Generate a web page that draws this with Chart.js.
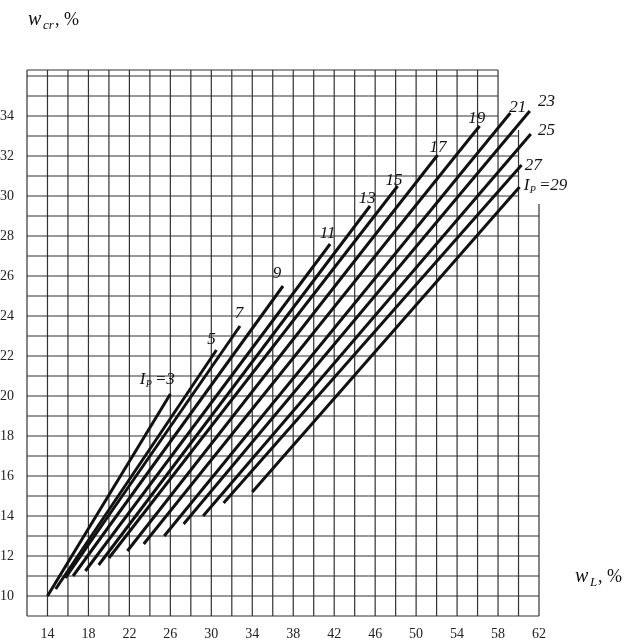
<!DOCTYPE html>
<html><head><meta charset="utf-8">
<script src="https://cdn.jsdelivr.net/npm/chart.js@4"></script>
<style>html,body{margin:0;padding:0;background:#fff}#c{display:block}</style>
</head><body>
<canvas id="c" width="635" height="642"></canvas>
<script>
const ipValues=[3,5,7,9,11,13,15,17,19,21,23,25,27,29];
const startX=[14,14.8,15.75,16.5,17.7,19,20,21.8,23.4,25.4,27.3,29.2,31.2,34];
const startY=[10,10.35,10.9,11,11.25,11.55,11.9,12.25,12.6,13,13.6,14,14.65,15.2];
const endX=[26,30.5,32.8,37,41.6,45.5,48.2,52.1,56.2,59.2,61.1,61.2,60.3,60.1];
const endY=[20.1,22.3,23.5,25.5,27.6,29.5,30.5,32.05,33.5,34.15,34.25,33.1,31.55,30.45];
const labelX=[23.0,29.6,32.3,36.0,40.6,44.4,47.0,51.3,55.1,59.1,61.9,61.9,60.6,60.5];
const labelY=[20.6,22.6,23.9,25.9,27.9,29.65,30.55,32.2,33.65,34.2,34.5,33.05,31.3,30.3];
const xTicks=[14,18,22,26,30,34,38,42,46,50,54,58,62];
const yTicks=[10,12,14,16,18,20,22,24,26,28,30,32,34];

const datasets=ipValues.map((v,i)=>({label:'Ip='+v,data:[{x:startX[i],y:startY[i]},{x:endX[i],y:endY[i]}],
 borderColor:'#111',borderWidth:3,pointRadius:0,fill:false,tension:0}));

const grid={id:'grid',beforeDatasetsDraw(ch){
 const {ctx,scales:{x,y}}=ch;ctx.save();ctx.strokeStyle='#333';ctx.lineWidth=1.2;
 const top=36.3;
 for(let v=12;v<=62;v+=2){const t=v<=58?top:(v===60?33.3:29.6);
  ctx.beginPath();ctx.moveTo(x.getPixelForValue(v),y.getPixelForValue(9));ctx.lineTo(x.getPixelForValue(v),y.getPixelForValue(t));ctx.stroke();}
 const hs=[];for(let v=9;v<=36;v++)hs.push(v);hs.push(top);
 hs.forEach(v=>{const r=v>33.3?58:(v>29.6?60:62);
  ctx.beginPath();ctx.moveTo(x.getPixelForValue(12),y.getPixelForValue(v));ctx.lineTo(x.getPixelForValue(r),y.getPixelForValue(v));ctx.stroke();});
 ctx.restore();},
 afterDatasetsDraw(ch){const {ctx,scales:{x,y}}=ch;ctx.save();ctx.fillStyle='#111';
 ctx.textBaseline='alphabetic';
 ipValues.forEach((v,i)=>{const px=x.getPixelForValue(labelX[i]),py=y.getPixelForValue(labelY[i]);
  ctx.font='italic 17px "Liberation Serif"';
  if(i===0||i===13){ctx.fillText('I',px,py);ctx.font='italic 10px "Liberation Serif"';ctx.fillText('P',px+6,py+3);
   ctx.font='italic 17px "Liberation Serif"';ctx.fillText(' ='+v,px+11,py);}
  else ctx.fillText(String(v),px,py);});
 ctx.font='italic 20px "Liberation Serif"';ctx.fillText('w',28,25);
 ctx.font='italic 13px "Liberation Serif"';ctx.fillText('cr',43,29);
 ctx.font='18px "Liberation Serif"';ctx.fillText(', %',55,25);
 ctx.font='italic 20px "Liberation Serif"';ctx.fillText('w',575,582);
 ctx.font='italic 13px "Liberation Serif"';ctx.fillText('L',590,586);
 ctx.font='18px "Liberation Serif"';ctx.fillText(', %',598,582);
 ctx.restore();}};

new Chart(document.getElementById('c'),{type:'line',data:{datasets},
 options:{responsive:false,animation:false,layout:{padding:{top:70,right:96,left:0,bottom:0}},
 plugins:{legend:{display:false},tooltip:{enabled:false}},
 scales:{
  x:{type:'linear',min:12,max:62,grid:{display:false},border:{display:false},
   afterBuildTicks(s){s.ticks=xTicks.map(v=>({value:v}));},
   afterFit(s){s.height=26;},
   ticks:{color:'#222',font:{family:'Liberation Serif',size:14},padding:2,maxRotation:0}},
  y:{type:'linear',min:9,max:36.3,grid:{display:false},border:{display:false},
   afterBuildTicks(s){s.ticks=yTicks.map(v=>({value:v}));},
   afterFit(s){s.width=27;},
   ticks:{color:'#222',font:{family:'Liberation Serif',size:14},padding:5}}}},
 plugins:[grid]});
</script></body></html>
